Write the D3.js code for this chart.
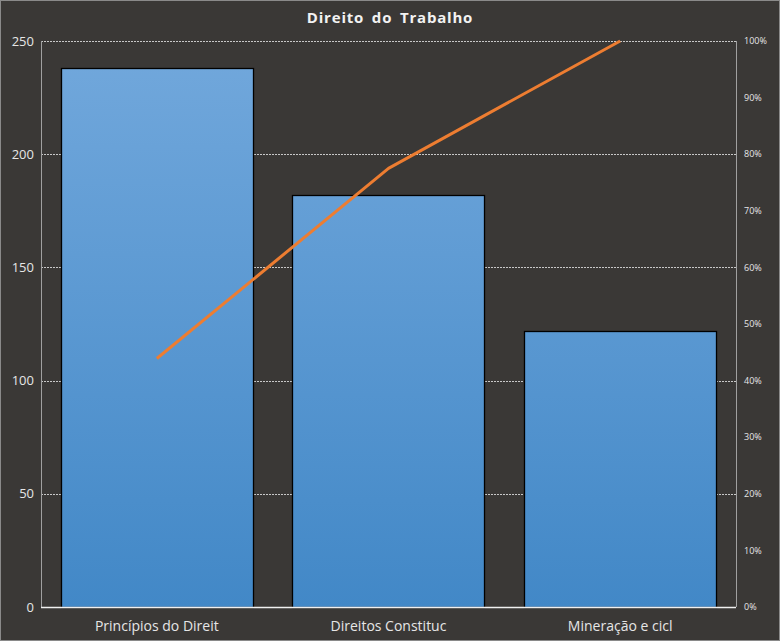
<!DOCTYPE html>
<html><head><meta charset="utf-8">
<script src="https://cdn.jsdelivr.net/npm/d3@7"></script>
<style>
html,body{margin:0;padding:0;background:#3a3836;}
svg{display:block;}
text{font-family:"Open Sans","Noto Sans",sans-serif;}
</style></head>
<body><svg id="c" width="780" height="641"></svg>
<script>
const categories = ["Princípios do Direit", "Direitos Constituc", "Mineração e cicl"];
const values = [238, 182, 122];
const cumulativePct = [43.9, 77.5, 100];
const leftTicks = [0, 50, 100, 150, 200, 250];
const rightTicks = [0, 10, 20, 30, 40, 50, 60, 70, 80, 90, 100];
const title = "Direito do Trabalho";

const W = 780, H = 641;
const m = {left: 41, right: 44, top: 41, bottom: 34};
const svg = d3.select("#c");
svg.append("rect").attr("x",0.5).attr("y",0.5).attr("width",W-1).attr("height",H-1)
  .attr("fill","#3a3836").attr("stroke","#8a8a8a");

const x = d3.scaleBand().domain(categories).range([m.left, W - m.right]).paddingInner(0.17).paddingOuter(0.085);
const y = d3.scaleLinear().domain([0, 250]).range([H - m.bottom, m.top]);
const y2 = d3.scaleLinear().domain([0, 100]).range([H - m.bottom, m.top]);

const defs = svg.append("defs");
const g = defs.append("linearGradient").attr("id","bg").attr("gradientUnits","userSpaceOnUse")
  .attr("x1",0).attr("y1",y(250)).attr("x2",0).attr("y2",y(0));
g.append("stop").attr("offset","0%").attr("stop-color","#72a8dc");
g.append("stop").attr("offset","100%").attr("stop-color","#4288c7");

// gridlines
svg.append("g").selectAll("line").data(leftTicks.filter(d=>d>0)).join("line")
  .attr("x1", m.left).attr("x2", W - m.right)
  .attr("y1", d=>Math.round(y(d))+0.5).attr("y2", d=>Math.round(y(d))+0.5)
  .attr("stroke","#c8c8c8").attr("stroke-width",1).attr("stroke-dasharray","2,1");

// axes lines
svg.append("line").attr("x1",m.left+0.5).attr("x2",m.left+0.5).attr("y1",m.top).attr("y2",H-m.bottom)
  .attr("stroke","#a0a0a0");
svg.append("line").attr("x1",W-m.right+0.5).attr("x2",W-m.right+0.5).attr("y1",m.top).attr("y2",H-m.bottom)
  .attr("stroke","#a0a0a0");

// bars
svg.append("g").selectAll("rect").data(values).join("rect")
  .attr("x",(d,i)=>Math.round(x(categories[i]))+0.5)
  .attr("y",d=>Math.round(y(d))+0.5)
  .attr("width",Math.round(x.bandwidth()))
  .attr("height",d=>Math.round(y(0)) - Math.round(y(d)))
  .attr("fill","url(#bg)").attr("stroke","#000").attr("stroke-width",1.3);

// bottom axis line
svg.append("line").attr("x1",m.left).attr("x2",W-m.right).attr("y1",Math.round(y(0))+0.5).attr("y2",Math.round(y(0))+0.5)
  .attr("stroke","#f0f0f0").attr("stroke-width",1.5);

// left tick labels
svg.append("g").selectAll("text").data(leftTicks).join("text")
  .attr("x", m.left - 7).attr("y", d=>y(d)).attr("dy","0.35em")
  .attr("text-anchor","end").attr("fill","#e6e6e6").attr("font-size",13).text(d=>d);

// right tick labels
svg.append("g").selectAll("text").data(rightTicks).join("text")
  .attr("x", W - m.right + 8).attr("y", d=>y2(d)).attr("dy","0.35em")
  .attr("text-anchor","start").attr("fill","#e6e6e6").attr("font-size",9).text(d=>d+"%");

// category labels
svg.append("g").selectAll("text").data(categories).join("text")
  .attr("x", d=>x(d)+x.bandwidth()/2).attr("y", H - m.bottom + 24)
  .attr("text-anchor","middle").attr("fill","#e6e6e6").attr("font-size",14).text(d=>d);

// line
const line = d3.line().x((d,i)=>x(categories[i])+x.bandwidth()/2).y(d=>y2(d));
svg.append("path").datum(cumulativePct).attr("d",line)
  .attr("fill","none").attr("stroke","#ed7d31").attr("stroke-width",3).attr("stroke-linejoin","round");

// title
svg.append("text").attr("x",W/2).attr("y",23).attr("text-anchor","middle")
  .attr("fill","#f2f2f2").attr("font-size",15).attr("font-weight","bold").attr("letter-spacing","0.8px")
  .attr("word-spacing","3px").text(title);
</script></body></html>
